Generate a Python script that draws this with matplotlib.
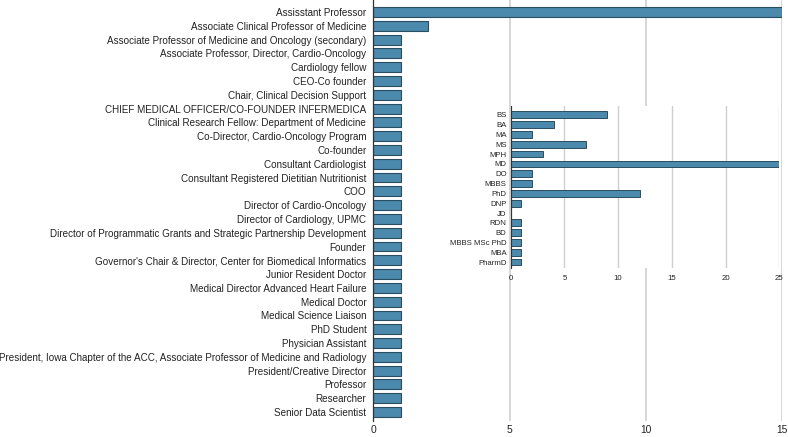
import numpy as np
import matplotlib.pyplot as plt

plt.rcParams["font.family"] = ["Liberation Sans", "DejaVu Sans"]

# main chart: job titles
titles = [
    "Assisstant Professor",
    "Associate Clinical Professor of Medicine",
    "Associate Professor of Medicine and Oncology (secondary)",
    "Associate Professor, Director, Cardio-Oncology",
    "Cardiology fellow",
    "CEO-Co founder",
    "Chair, Clinical Decision Support",
    "CHIEF MEDICAL OFFICER/CO-FOUNDER INFERMEDICA",
    "Clinical Research Fellow: Department of Medicine",
    "Co-Director, Cardio-Oncology Program",
    "Co-founder",
    "Consultant Cardiologist",
    "Consultant Registered Dietitian Nutritionist",
    "COO",
    "Director of Cardio-Oncology",
    "Director of Cardiology, UPMC",
    "Director of Programmatic Grants and Strategic Partnership Development",
    "Founder",
    "Governor's Chair & Director, Center for Biomedical Informatics",
    "Junior Resident Doctor",
    "Medical Director Advanced Heart Failure",
    "Medical Doctor",
    "Medical Science Liaison",
    "PhD Student",
    "Physician Assistant",
    "President, Iowa Chapter of the ACC, Associate Professor of Medicine and Radiology",
    "President/Creative Director",
    "Professor",
    "Researcher",
    "Senior Data Scientist",
]
title_counts = [15, 2] + [1] * 28
main_ticks = [0, 5, 10, 15]

# inset: degrees
degrees = ["BS", "BA", "MA", "MS", "MPH", "MD", "DO", "MBBS", "PhD", "DNP",
           "JD", "RDN", "BD", "MBBS MSc PhD", "MBA", "PharmD"]
degree_counts = [9, 4, 2, 7, 3, 25, 2, 2, 12, 1, 0, 1, 1, 1, 1, 1]
inset_ticks = [0, 5, 10, 15, 20, 25]

bar_color = "#4b89ad"
edge_color = "#2b4d60"
grid_color = "#cfcfcf"
text_color = "#222222"

fig = plt.figure(figsize=(7.88, 4.37), dpi=100)
ax = fig.add_axes([373.3 / 788, 1 - 421 / 437, (782 - 373.3) / 788, 421 / 437])

n = len(titles)
ypos = np.arange(n)
ax.barh(ypos, title_counts, height=0.72, color=bar_color, edgecolor=edge_color,
        linewidth=0.8, zorder=2)
ax.set_yticks(ypos)
ax.set_yticklabels(titles, fontsize=7.1, color=text_color)
ax.set_ylim(n - 1 + 0.65, -0.87)
ax.set_xlim(0, 15)
ax.set_xticks(main_ticks)
ax.tick_params(axis="y", length=0, pad=5)
ax.tick_params(axis="x", length=0, labelsize=7.4, pad=3, colors=text_color)
ax.xaxis.grid(True, color=grid_color, linewidth=1.2, zorder=0)
for s in ["top", "right", "bottom"]:
    ax.spines[s].set_visible(False)
ax.spines["left"].set_color("#333333")
ax.spines["left"].set_linewidth(0.9)

# inset panel
ax2 = fig.add_axes([510.7 / 788, 1 - 268 / 437, (779.3 - 510.7) / 788, (268 - 106) / 437])
ax2.set_facecolor("white")
m = len(degrees)
ypos2 = np.arange(m)
ax2.barh(ypos2, degree_counts, height=0.68, color=bar_color, edgecolor=edge_color,
         linewidth=0.7, zorder=2)
ax2.set_yticks(ypos2)
ax2.set_yticklabels(degrees, fontsize=5.6, color=text_color)
ax2.set_ylim(m - 1 + 0.6, -0.9)
ax2.set_xlim(0, 25)
ax2.set_xticks(inset_ticks)
ax2.tick_params(axis="y", length=0, pad=3)
ax2.tick_params(axis="x", length=0, labelsize=5.6, pad=5, colors=text_color)
ax2.xaxis.grid(True, color=grid_color, linewidth=1.0, zorder=0)
for s in ["top", "right", "bottom"]:
    ax2.spines[s].set_visible(False)
ax2.spines["left"].set_color("#333333")
ax2.spines["left"].set_linewidth(0.8)

fig.savefig("out.png", dpi=100)
